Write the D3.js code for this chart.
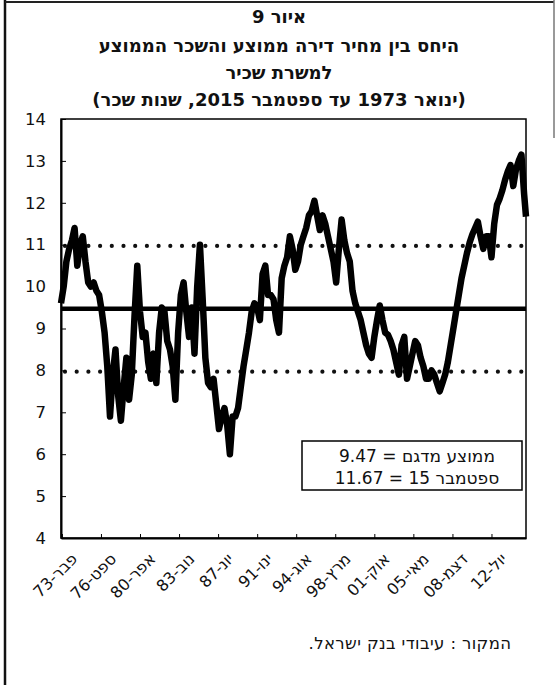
<!DOCTYPE html>
<html>
<head>
<meta charset="utf-8">
<script src="https://cdn.jsdelivr.net/npm/d3@7"></script>
<style>
  body { margin: 0; background: #fff; }
  svg { display: block; }
</style>
</head>
<body>
<svg width="557" height="685"></svg>
<script>
// ratio of average dwelling price to average wage, quarterly readings from Jan 1973
const startMonth = "1973-01";
const ratioValues = [
  9.6, 10.0, 10.6, 10.9, 11.1, 11.4, 10.5, 11.0, 11.2, 10.6,
  10.1, 10.0, 10.1, 9.9, 9.8, 9.4, 8.9, 8.1, 6.9, 7.9,
  8.5, 7.4, 6.8, 7.6, 8.3, 7.3, 7.9, 9.3, 10.5, 9.4,
  8.8, 8.9, 8.2, 7.8, 8.4, 7.7, 8.9, 9.5, 9.4, 8.7,
  8.5, 8.1, 7.3, 8.9, 9.8, 10.1, 9.4, 8.8, 9.5, 8.4,
  10.0, 11.0, 9.7, 8.3, 7.7, 7.6, 7.8, 7.2, 6.6, 6.9,
  7.1, 6.7, 6.0, 6.9, 6.9, 7.1, 7.6, 8.1, 8.5, 8.9,
  9.4, 9.6, 9.5, 9.2, 10.3, 10.5, 9.8, 9.8, 9.7, 9.2,
  8.9, 10.2, 10.5, 10.7, 11.2, 10.9, 10.4, 10.6, 11.0, 11.2,
  11.4, 11.7, 11.8, 12.05, 11.7, 11.35, 11.7, 11.5, 11.2, 10.9,
  10.6, 10.1, 10.9, 11.6, 11.1, 10.8, 10.6, 9.9, 9.6, 9.4,
  9.2, 8.9, 8.6, 8.4, 8.3, 8.8, 9.2, 9.55, 9.2, 8.9,
  8.85, 8.7, 8.5, 8.2, 7.9, 8.6, 8.8, 7.8, 8.1, 8.4,
  8.7, 8.6, 8.3, 8.1, 7.8, 7.8, 8.0, 7.9, 7.7, 7.5,
  7.7, 7.9, 8.2, 8.6, 9.0, 9.4, 9.8, 10.2, 10.5, 10.8,
  11.05, 11.25, 11.4, 11.55, 11.2, 10.9, 11.2, 11.2, 10.7, 11.5,
  11.95, 12.1, 12.3, 12.55, 12.75, 12.9, 12.4, 12.8, 13.0, 13.15,
  12.2
];
const lastMonth = "2015-09";
const lastValue = 11.67;

const sampleMean = 9.47;
const bandLines = [10.97, 7.97];

const tickMonths = ["1973-02", "1976-09", "1980-04", "1983-11", "1987-06", "1991-01",
                    "1994-08", "1998-03", "2001-10", "2005-05", "2008-12", "2012-07"];
const tickMonthNames = ["פבר", "ספט", "אפר", "נוב", "יונ", "ינו",
                        "אוג", "מרץ", "אוק", "מאי", "דצמ", "יול"];
const yTicks = [4, 5, 6, 7, 8, 9, 10, 11, 12, 13, 14];

const titleLines = [
  "איור 9",
  "היחס בין מחיר דירה ממוצע והשכר הממוצע",
  "למשרת שכיר",
  "(ינואר 1973 עד ספטמבר 2015, שנות שכר)"
];
const legendLines = ["ממוצע מדגם = 9.47", "ספטמבר 15 = 11.67"];
const sourceText = "המקור : עיבודי בנק ישראל.";

const svg = d3.select("svg");
const parseMonth = d3.timeParse("%Y-%m");
const margin = { top: 119, right: 31, bottom: 147, left: 61 };
const width = +svg.attr("width");
const height = +svg.attr("height");
const innerWidth = width - margin.left - margin.right;
const innerHeight = height - margin.top - margin.bottom;

// embed hebrew as a right-to-left run inside a normal text element
const rtl = s => "\u202B" + s + "\u202C";

// page frame
svg.append("line").attr("x1", 5).attr("x2", 5).attr("y1", 0).attr("y2", height)
  .attr("stroke", "#111").attr("stroke-width", 2.5);
svg.append("line").attr("x1", 5).attr("x2", 554).attr("y1", 2).attr("y2", 2)
  .attr("stroke", "#222").attr("stroke-width", 2);
svg.append("line").attr("x1", 554).attr("x2", 554).attr("y1", 0).attr("y2", 138)
  .attr("stroke", "#777").attr("stroke-width", 1.5);

// title
svg.append("g").selectAll("text").data(titleLines).join("text")
  .attr("x", 279)
  .attr("y", (d, i) => [23, 52, 79, 106][i])
  .attr("text-anchor", "middle")
  .attr("font-family", "DejaVu Sans, sans-serif")
  .attr("font-weight", "bold")
  .attr("font-size", 18)
  .attr("fill", "#111")
  .text(d => rtl(d));

const data = ratioValues.map((v, i) => ({ date: d3.timeMonth.offset(parseMonth(startMonth), 3 * i), value: v }));
data.push({ date: parseMonth(lastMonth), value: lastValue });

const g = svg.append("g").attr("transform", "translate(" + margin.left + "," + margin.top + ")");

const x = d3.scaleTime()
  .domain([parseMonth(startMonth), parseMonth(lastMonth)])
  .range([0, innerWidth]);
const y = d3.scaleLinear().domain([4, 14]).range([innerHeight, 0]);

// dotted band lines
g.selectAll(".band").data(bandLines).join("line")
  .attr("class", "band")
  .attr("x1", 4).attr("x2", innerWidth)
  .attr("y1", d => y(d)).attr("y2", d => y(d))
  .attr("stroke", "#111").attr("stroke-width", 4.2)
  .attr("stroke-linecap", "round")
  .attr("stroke-dasharray", "0 11.7");

// sample mean
g.append("line")
  .attr("x1", 0).attr("x2", innerWidth)
  .attr("y1", y(sampleMean)).attr("y2", y(sampleMean))
  .attr("stroke", "#000").attr("stroke-width", 4.5);

// series
const line = d3.line().x(d => x(d.date)).y(d => y(d.value));
g.append("path").datum(data)
  .attr("d", line)
  .attr("fill", "none")
  .attr("stroke", "#000")
  .attr("stroke-width", 6.5)
  .attr("stroke-linejoin", "round");

// frame around plot
g.append("rect").attr("width", innerWidth).attr("height", innerHeight)
  .attr("fill", "none").attr("stroke", "#000").attr("stroke-width", 1.5);

// axes
const yaxis = d3.axisLeft(y).tickValues(yTicks).tickSizeInner(-5).tickSizeOuter(0).tickPadding(15);
const yG = g.append("g").call(yaxis);
yG.select(".domain").attr("stroke-width", 2);
yG.selectAll("text").attr("font-family", "DejaVu Sans, sans-serif").attr("font-size", 16.5).attr("fill", "#111");

const xaxis = d3.axisBottom(x)
  .tickValues(tickMonths.map(parseMonth))
  .tickFormat((d, i) => d3.timeFormat("%y")(d) + "-" + tickMonthNames[i])
  .tickSizeInner(-4).tickSizeOuter(0);
const xG = g.append("g").attr("transform", "translate(0," + innerHeight + ")").call(xaxis);
xG.select(".domain").attr("stroke-width", 2);
xG.selectAll("text")
  .attr("font-family", "DejaVu Sans, sans-serif")
  .attr("font-size", 16)
  .attr("fill", "#111")
  .attr("text-anchor", "end")
  .attr("dy", "0")
  .attr("y", 0)
  .attr("transform", "translate(16,22) rotate(-45)");

// legend box
const legend = svg.append("g");
legend.append("rect").attr("x", 302).attr("y", 441).attr("width", 220).attr("height", 49)
  .attr("fill", "#fff").attr("stroke", "#000").attr("stroke-width", 1.5);
legend.selectAll("text").data(legendLines).join("text")
  .attr("x", 417)
  .attr("y", (d, i) => 462 + i * 22)
  .attr("text-anchor", "middle")
  .attr("font-family", "DejaVu Sans, sans-serif")
  .attr("font-size", 17)
  .attr("fill", "#111")
  .text(d => rtl(d));

// source note
svg.append("text")
  .attr("x", 410).attr("y", 649)
  .attr("text-anchor", "middle")
  .attr("font-family", "DejaVu Sans, sans-serif")
  .attr("font-size", 16.5)
  .attr("letter-spacing", 0.4)
  .attr("fill", "#111")
  .text(rtl(sourceText));
</script>
</body>
</html>
